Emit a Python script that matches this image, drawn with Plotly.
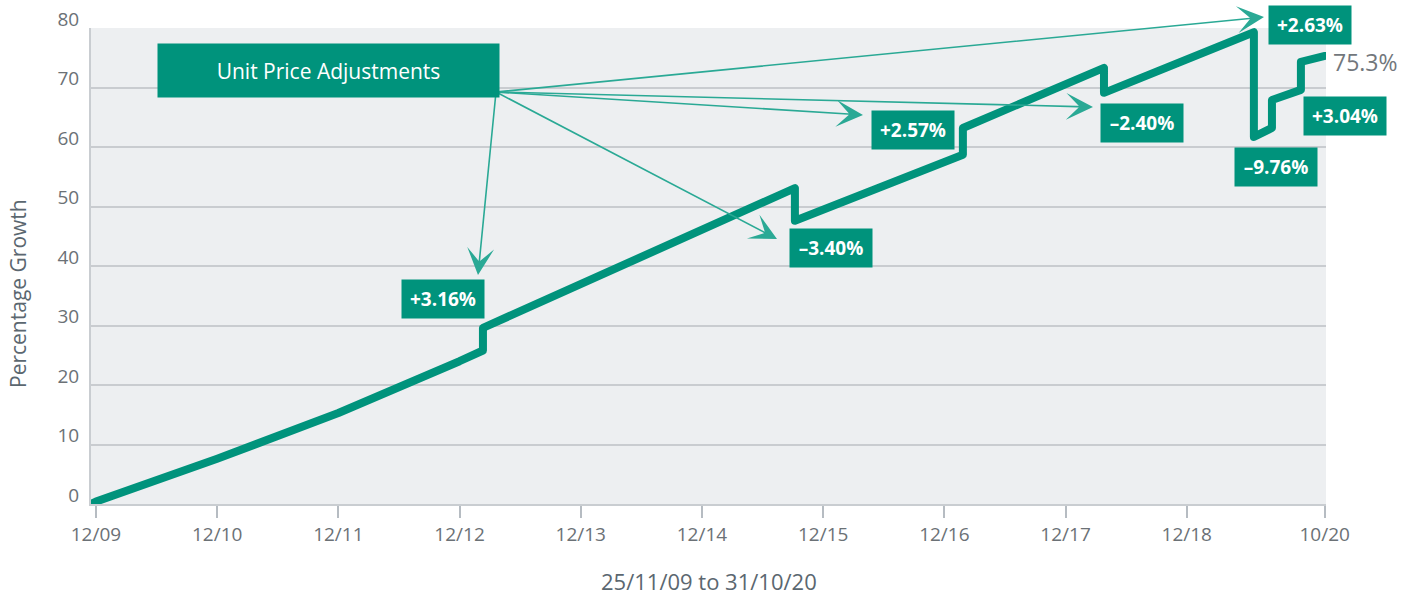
import plotly.graph_objects as go

# ---- data (x = position along the period axis, one unit per tick year) ----
x_pos = [-0.041, 0.0, 1.0, 2.0, 3.0, 3.193, 3.193, 5.767, 5.767, 7.153, 7.153,
         8.317, 8.317, 9.554, 9.554, 9.703, 9.703, 9.942, 9.942, 10.14]
growth = [0.0, 0.4, 7.6, 15.3, 24.0, 25.8, 29.6, 53.1, 47.6, 58.7, 63.2,
          73.3, 69.1, 79.3, 61.7, 63.2, 67.9, 69.6, 74.3, 75.3]

tick_pos = [0, 1, 2, 3, 4, 5, 6, 7, 8, 9, 10.138]
tick_text = ["12/09", "12/10", "12/11", "12/12", "12/13", "12/14",
             "12/15", "12/16", "12/17", "12/18", "10/20"]

adj_labels = ["+3.16%", "–3.40%", "+2.57%", "–2.40%", "+2.63%", "–9.76%", "+3.04%"]
final_value = "75.3%"

# ---- styling ----
W, H = 1413, 596
L, R, T, B = 91, 1326, 28, 504
TEAL = "#00937c"
ARROW = "#2aa995"
FONT = "Open Sans"


def px_x(px):
    return (px - L) / (R - L)


def px_y(py):
    return (B - py) / (B - T)


fig = go.Figure()
fig.add_trace(go.Scatter(
    x=x_pos, y=growth, mode="lines",
    line=dict(color=TEAL, width=8),
    cliponaxis=False, hoverinfo="skip", showlegend=False,
))

annotations = []

# arrows from the "Unit Price Adjustments" box
tail = (496, 92)
heads = [(478, 275), (777, 239), (863, 115), (1093, 107), (1264, 17)]
for hx, hy in heads:
    annotations.append(dict(
        xref="paper", yref="paper", x=px_x(hx), y=px_y(hy),
        axref="pixel", ayref="pixel", ax=tail[0] - hx, ay=tail[1] - hy,
        text="", showarrow=True, arrowhead=3, arrowsize=2.8, arrowwidth=1.6,
        arrowcolor=ARROW,
    ))

# heading box
annotations.append(dict(
    xref="paper", yref="paper", x=px_x(328.5), y=px_y(70.5),
    xanchor="center", yanchor="middle", showarrow=False,
    text="Unit Price Adjustments", width=341, height=53, bgcolor=TEAL,
    borderpad=0, font=dict(family=FONT, size=21, color="white"),
))

# adjustment labels
centers = [(443, 299), (831, 248), (913, 130), (1142, 123.5),
           (1310, 24.5), (1276, 167), (1345, 116)]
for txt, (cx, cy) in zip(adj_labels, centers):
    annotations.append(dict(
        xref="paper", yref="paper", x=px_x(cx), y=px_y(cy),
        xanchor="center", yanchor="middle", showarrow=False,
        text="<b>" + txt + "</b>", width=82, height=38, bgcolor=TEAL,
        borderpad=0, font=dict(family=FONT, size=19, color="white"),
    ))

# final value label
annotations.append(dict(
    xref="paper", yref="paper", x=px_x(1331), y=px_y(62),
    xanchor="left", yanchor="middle", showarrow=False, text=final_value,
    font=dict(family=FONT, size=23, color="#72777c"),
))

# axis titles
annotations.append(dict(
    xref="paper", yref="paper", x=px_x(708.5), y=px_y(581),
    xanchor="center", yanchor="middle", showarrow=False,
    text="25/11/09 to 31/10/20",
    font=dict(family=FONT, size=22, color="#5b6770"),
))
annotations.append(dict(
    xref="paper", yref="paper", x=px_x(18), y=px_y(294),
    xanchor="center", yanchor="middle", showarrow=False, textangle=-90,
    text="Percentage Growth",
    font=dict(family=FONT, size=21, color="#5b6770"),
))

fig.update_layout(
    width=W, height=H,
    margin=dict(l=L, r=W - R, t=T, b=H - B, pad=0, autoexpand=False),
    paper_bgcolor="white", plot_bgcolor="#edeff1",
    font=dict(family=FONT, size=18, color="#6b7176"),
    annotations=annotations,
    xaxis=dict(
        range=[-0.041, 10.149], tickmode="array", tickvals=tick_pos,
        ticktext=tick_text, showgrid=False, zeroline=False, automargin=False,
        showline=True, linecolor="#c9cdd1", linewidth=2,
        ticks="outside", ticklen=12, tickwidth=1.5, tickcolor="#b6bcc2",
        tickfont=dict(family=FONT, size=19, color="#6b7176"),
    ),
    yaxis=dict(
        range=[0, 80], tickmode="array", tickvals=[0, 10, 20, 30, 40, 50, 60, 70, 80],
        showgrid=True, gridcolor="#c9ccd0", gridwidth=1.5, zeroline=False,
        automargin=False,
        showline=True, linecolor="#c9cdd1", linewidth=2, ticks="",
        ticklabelshift=-9, ticklabelstandoff=6,
        tickfont=dict(family=FONT, size=19, color="#6b7176"),
    ),
)

post = (
    "document.body.style.margin='0';document.body.style.overflow='hidden';"
    "var s=document.createElement('style');"
    "s.textContent='.scatterlayer .js-line{stroke-linejoin:round;stroke-linecap:round;}';"
    "document.head.appendChild(s);"
)

fig.write_html(
    "out.html",
    config={"displayModeBar": False},
    post_script=post,
)
